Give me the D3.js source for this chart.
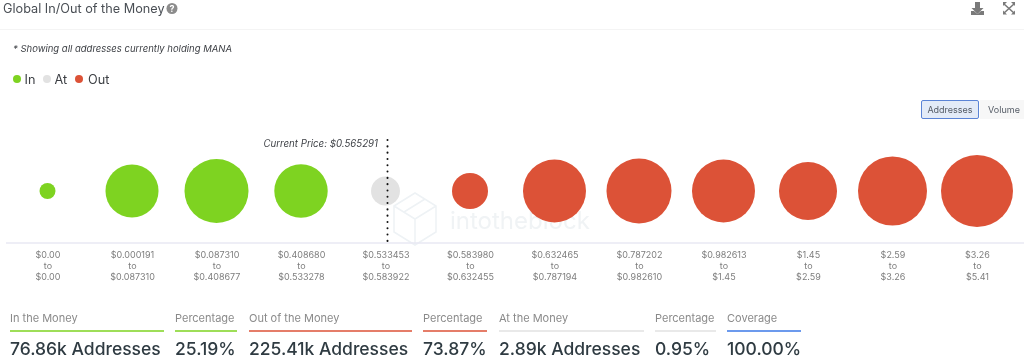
<!DOCTYPE html>
<html>
<head>
<meta charset="utf-8">
<script src="https://cdn.jsdelivr.net/npm/d3@7"></script>
<style>
html,body{margin:0;padding:0;background:#fff;overflow:hidden}
svg{display:block;filter:blur(0.35px)}
text{font-family:Inter,"Noto Sans",sans-serif}
</style>
</head>
<body>
<svg id="c" width="1024" height="360"></svg>
<script>
const rangeLow = ["$0.00","$0.000191","$0.087310","$0.408680","$0.533453","$0.583980","$0.632465","$0.787202","$0.982613","$1.45","$2.59","$3.26"];
const rangeHigh = ["$0.00","$0.087310","$0.408677","$0.533278","$0.583922","$0.632455","$0.787194","$0.982610","$1.45","$2.59","$3.26","$5.41"];
const addressesK = [0.05,19.8,32.5,20.2,2.89,6.3,31.2,33.8,31.2,25.2,39.3,43.7];
const groups = ["In","In","In","In","At","Out","Out","Out","Out","Out","Out","Out"];
const legendItems = ["In","At","Out"];
const colors = {In:"#7ed321",At:"#e2e2e2",Out:"#dc5237"};
const stats = [
  {label:"In the Money",value:"76.86k Addresses",color:"#7ed321",x0:10,x1:164},
  {label:"Percentage",value:"25.19%",color:"#7ed321",x0:175,x1:237},
  {label:"Out of the Money",value:"225.41k Addresses",color:"#dc5237",x0:249,x1:412},
  {label:"Percentage",value:"73.87%",color:"#dc5237",x0:423,x1:487},
  {label:"At the Money",value:"2.89k Addresses",color:"#e2e2e2",x0:499,x1:644},
  {label:"Percentage",value:"0.95%",color:"#e2e2e2",x0:655,x1:716},
  {label:"Coverage",value:"100.00%",color:"#3b78e7",x0:727,x1:801}
];
const currentPrice = "$0.565291";

const svg = d3.select("#c");
const x = d3.scalePoint().domain(d3.range(rangeLow.length)).range([47.5,977]);
const r = d3.scaleSqrt().domain([0,d3.max(addressesK)]).range([7,36]);
const cy = 191, axisY = 243;

// header
svg.append("text").attr("x",3).attr("y",13).attr("font-size",12.7).attr("fill","#4a4f55").text("Global In/Out of the Money");
svg.append("circle").attr("cx",172).attr("cy",8.5).attr("r",5.5).attr("fill","#8c8c8c");
svg.append("text").attr("x",172).attr("y",12).attr("text-anchor","middle").attr("font-size",9).attr("font-weight",700).attr("fill","#fff").text("?");
svg.append("line").attr("x1",0).attr("x2",1024).attr("y1",29.5).attr("y2",29.5).attr("stroke","#f4f4f4");

// download icon
const ic = svg.append("g").attr("fill","#7a7a7a");
ic.append("path").attr("d","M975 2h5v6h3.5l-6 6-6-6h3.5z");
ic.append("path").attr("d","M971 11h3l3.5 3 3.5-3h3v4h-13z");
// expand icon
const ex = svg.append("g").attr("stroke","#7a7a7a").attr("stroke-width",1.6).attr("fill","none");
ex.append("path").attr("d","M1004 4l10 9M1014 4l-10 9");
const ef = svg.append("g").attr("fill","#7a7a7a");
ef.append("path").attr("d","M1003 2h4l-4 4zM1015 2h-4l4 4zM1003 14.500h4l-4-4zM1015 14.500h-4l4-4z");

// note
svg.append("text").attr("x",13).attr("y",52).attr("font-size",9.500).attr("font-style","italic").attr("fill","#3c3f44").text("* Showing all addresses currently holding MANA");

// legend
const legX = [17,47,79], legTextX = [24.500,54.500,88];
legendItems.forEach((d,i)=>{
  svg.append("circle").attr("cx",legX[i]).attr("cy",79).attr("r",4).attr("fill",colors[d]);
  svg.append("text").attr("x",legTextX[i]).attr("y",84).attr("font-size",12.7).attr("fill","#3c3f44").text(d);
});

// toggle
svg.append("rect").attr("x",921.500).attr("y",100.500).attr("width",57).attr("height",18).attr("rx",1.500).attr("fill","#e3ebf8").attr("stroke","#5b84d6");
svg.append("text").attr("x",950).attr("y",113).attr("text-anchor","middle").attr("font-size",9).attr("fill","#555c66").text("Addresses");
svg.append("rect").attr("x",980).attr("y",100).attr("width",44).attr("height",19).attr("fill","#f7f7f7");
svg.append("text").attr("x",1004).attr("y",113).attr("text-anchor","middle").attr("font-size",9).attr("fill","#555c66").text("Volume");

// watermark
const wm = svg.append("g").attr("fill","none").attr("stroke","#eef2f5").attr("stroke-width",1.500);
wm.append("path").attr("d","M394 206l21-13 21 13v26l-21 13-21-13zM394 206l21 13 21-13M415 219v26M404 212l21-13");
svg.append("text").attr("x",450).attr("y",229).attr("font-size",24).attr("fill","#f0f3f5").text("intotheblock");

// axis
svg.append("line").attr("x1",6).attr("x2",1024).attr("y1",axisY).attr("y2",axisY).attr("stroke","#e8e8f3").attr("stroke-width",1.500);

// bubbles
svg.append("g").selectAll("circle").data(addressesK).join("circle")
  .attr("cx",(d,i)=>x(i)).attr("cy",cy).attr("r",d=>r(d)).attr("fill",(d,i)=>colors[groups[i]]);

// current price
svg.append("line").attr("x1",387.500).attr("x2",387.500).attr("y1",140).attr("y2",245)
  .attr("stroke","#111").attr("stroke-width",2).attr("stroke-linecap","round").attr("stroke-dasharray","0.100 6.200");
svg.append("text").attr("x",378).attr("y",147).attr("text-anchor","end").attr("font-size",9.700).attr("font-style","italic").attr("fill","#3c3f44").text("Current Price: "+currentPrice);

// tick labels
const tg = svg.append("g").attr("font-size",9).attr("fill","#7d7d7d").attr("text-anchor","middle");
rangeLow.forEach((d,i)=>{
  const g = tg.append("g");
  g.append("text").attr("x",x(i)+0.500).attr("y",258).text(d);
  g.append("text").attr("x",x(i)+0.500).attr("y",269).text("to");
  g.append("text").attr("x",x(i)+0.500).attr("y",280).text(rangeHigh[i]);
});

// stats
stats.forEach(s=>{
  svg.append("text").attr("x",s.x0).attr("y",322).attr("font-size",11).attr("fill","#8a8a8a").text(s.label);
  svg.append("line").attr("x1",s.x0).attr("x2",s.x1).attr("y1",331).attr("y2",331).attr("stroke",s.color).attr("stroke-width",1.600);
  svg.append("text").attr("x",s.x0).attr("y",355).attr("font-size",17.500).attr("font-weight",500).attr("fill","#2f3b42").text(s.value);
});
</script>
</body>
</html>
